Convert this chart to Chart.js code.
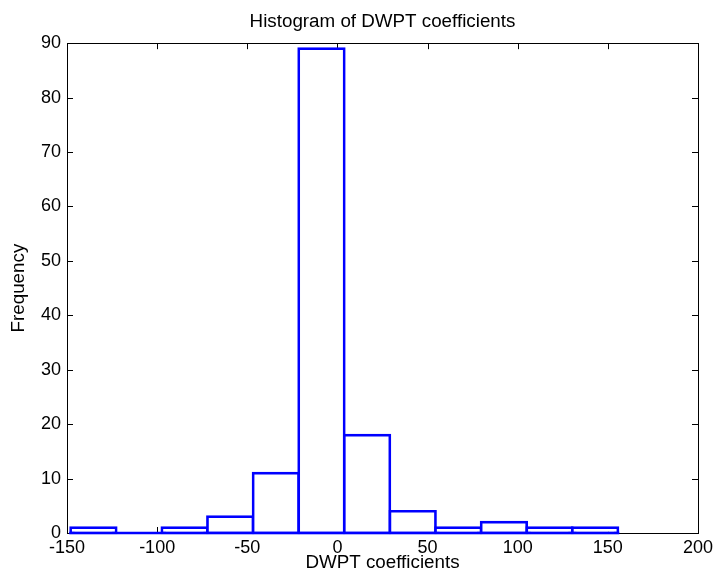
<!DOCTYPE html>
<html lang="en">
<head>
    <meta charset="UTF-8">
    <title>Histogram of DWPT coefficients</title>
    <script src="https://cdn.jsdelivr.net/npm/chart.js"></script>
    <style>
        body { margin: 0; background: #fff; }
        #wrap { width: 713px; height: 581px; }
    </style>
</head>
<body>
    <div id="wrap"><canvas id="myChart"></canvas></div>

    <script>
        // histogram bins (edges) and counts
        const binEdges = [-148, -122.7, -97.4, -72.1, -46.8, -21.5, 3.8, 29.1, 54.4, 79.7, 105, 130.3, 155.6];
        const counts = [1, 0, 1, 3, 11, 89, 18, 4, 1, 2, 1, 1];
        const xTicks = [-150, -100, -50, 0, 50, 100, 150, 200];
        const yTicks = [0, 10, 20, 30, 40, 50, 60, 70, 80, 90];

        const barData = [];
        for (let i = 0; i < counts.length; i++) {
            barData.push({ x: (binEdges[i] + binEdges[i + 1]) / 2, y: counts[i] });
        }

        const lineW = 2.7;
        const blue = '#0000ff';
        Chart.defaults.font.family = "'Liberation Sans', Arial, Helvetica, sans-serif";
        Chart.defaults.font.size = 18;
        Chart.defaults.color = '#000';

        // MATLAB-style box with inward ticks on all four sides
        const boxPlugin = {
            id: 'box',
            beforeDatasetsDraw(chart) {
                const { ctx, chartArea: a, scales } = chart;
                const tl = 6;
                ctx.save();
                ctx.strokeStyle = '#000';
                ctx.lineWidth = 1;
                ctx.beginPath();
                xTicks.forEach(v => {
                    const px = Math.round(scales.x.getPixelForValue(v)) + 0.5;
                    ctx.moveTo(px, a.bottom); ctx.lineTo(px, a.bottom - tl);
                    ctx.moveTo(px, a.top); ctx.lineTo(px, a.top + tl);
                });
                yTicks.forEach(v => {
                    const py = Math.round(scales.y.getPixelForValue(v)) + 0.5;
                    ctx.moveTo(a.left, py); ctx.lineTo(a.left + tl, py);
                    ctx.moveTo(a.right, py); ctx.lineTo(a.right - tl, py);
                });
                ctx.stroke();
                ctx.strokeRect(Math.round(a.left) + 0.5, Math.round(a.top) + 0.5,
                    Math.round(a.right - a.left), Math.round(a.bottom - a.top));
                ctx.restore();
            },
            // empty bins still show as a flat line on the axis, like MATLAB's hist
            afterDatasetsDraw(chart) {
                const { ctx, scales } = chart;
                const y0 = scales.y.getPixelForValue(0);
                ctx.save();
                ctx.strokeStyle = blue;
                ctx.lineWidth = lineW;
                ctx.beginPath();
                ctx.moveTo(scales.x.getPixelForValue(binEdges[0]) - lineW / 2, y0);
                ctx.lineTo(scales.x.getPixelForValue(binEdges[binEdges.length - 1]) + lineW / 2, y0);
                ctx.stroke();
                ctx.restore();
            }
        };

        const ctx = document.getElementById('myChart').getContext('2d');

        new Chart(ctx, {
            type: 'bar',
            data: {
                datasets: [
                    {
                        data: barData,
                        backgroundColor: '#ffffff',
                        borderColor: blue,
                        borderWidth: lineW,
                        borderSkipped: false,
                        inflateAmount: lineW / 2,
                        barPercentage: 1,
                        categoryPercentage: 1,
                        clip: false
                    }
                ]
            },
            options: {
                responsive: true,
                maintainAspectRatio: false,
                animation: false,
                layout: { padding: { left: 0, right: 15, top: 0, bottom: 0 } },
                scales: {
                    x: {
                        type: 'linear',
                        min: -150,
                        max: 200,
                        offset: false,
                        grid: { display: false, drawTicks: false },
                        border: { display: false },
                        afterBuildTicks: s => { s.ticks = xTicks.map(v => ({ value: v })); },
                        ticks: { padding: 4, maxRotation: 0, autoSkip: false },
                        title: { display: true, text: 'DWPT coefficients', font: { size: 18.8 }, padding: { top: 0, bottom: 7 } },
                        afterFit: s => { s.height = 48; s.paddingLeft = 0; s.paddingRight = 0; }
                    },
                    y: {
                        min: 0,
                        max: 90,
                        grid: { display: false, drawTicks: false },
                        border: { display: false },
                        afterBuildTicks: s => { s.ticks = yTicks.map(v => ({ value: v })); },
                        ticks: { padding: 6 },
                        title: { display: true, text: 'Frequency', font: { size: 18.8 }, padding: { top: 8, bottom: 0 } },
                        afterFit: s => { s.width = 67; }
                    }
                },
                plugins: {
                    legend: { display: false },
                    tooltip: { enabled: false },
                    title: {
                        display: true,
                        text: 'Histogram of DWPT coefficients',
                        fullSize: false,
                        font: { weight: 'normal', size: 18.8 },
                        padding: { top: 10.6, bottom: 10 }
                    }
                }
            },
            plugins: [boxPlugin]
        });
    </script>
</body>
</html>
